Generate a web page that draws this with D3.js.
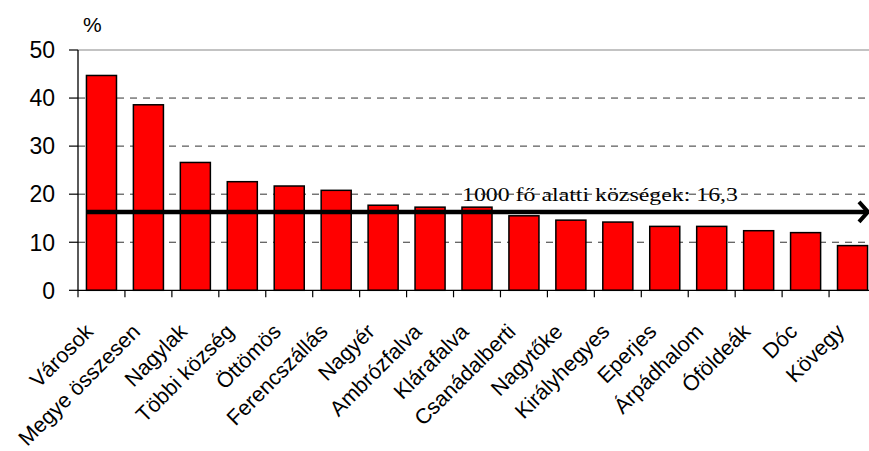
<!DOCTYPE html>
<html>
<head>
<meta charset="utf-8">
<script src="https://cdn.jsdelivr.net/npm/d3@7"></script>
<style>
  body { margin: 0; background: #fff; }
  svg { display: block; }
  text { font-family: "Liberation Sans", Arial, sans-serif; fill: #000; }
</style>
</head>
<body>
<div id="chart"></div>
<script>
// data
const categories = ["Városok", "Megye összesen", "Nagylak", "Többi község", "Öttömös",
    "Ferencszállás", "Nagyér", "Ambrózfalva", "Klárafalva", "Csanádalberti", "Nagytőke",
    "Királyhegyes", "Eperjes", "Árpádhalom", "Óföldeák", "Dóc", "Kövegy"];
const values = [44.7, 38.6, 26.6, 22.6, 21.7, 20.8, 17.7, 17.3, 17.3, 15.5, 14.6,
    14.2, 13.3, 13.3, 12.4, 12.0, 9.3];
const yTicks = [0, 10, 20, 30, 40, 50];
const refValue = 16.3;
const refLabel = "1000 fő alatti községek: 16,3";
const unitLabel = "%";

const width = 869, height = 451;
const plot = {left: 78, right: 876, top: 50, bottom: 290.3};

let svg = d3.select('#chart').append('svg')
    .attr("width", width)
    .attr("height", height);

const x = d3.scaleBand()
    .domain(categories)
    .range([plot.left, plot.right])
    .paddingInner(0.36)
    .paddingOuter(0.18);
const y = d3.scaleLinear()
    .domain([0, 50])
    .range([plot.bottom, plot.top]);
const step = x.step();

// reference label (stretched serif, like the original text box)
svg.append("text")
    .attr("x", 462)
    .attr("y", y(refValue) - 11)
    .attr("textLength", 276)
    .attr("lengthAdjust", "spacingAndGlyphs")
    .style("font-family", "'Liberation Serif', 'Times New Roman', serif")
    .style("font-size", "18px")
    .text(refLabel);

// gridlines (drawn over the label, as in the original)
svg.append("g").selectAll("line")
    .data(yTicks.filter(d => d > 0 && d < 50))
    .join("line")
    .attr("x1", plot.left).attr("x2", plot.right)
    .attr("y1", d => y(d)).attr("y2", d => y(d))
    .attr("stroke", "#333")
    .attr("stroke-width", 1)
    .attr("stroke-dasharray", "7,6");
// top border
svg.append("line")
    .attr("x1", plot.left).attr("x2", plot.right)
    .attr("y1", y(50)).attr("y2", y(50))
    .attr("stroke", "#888")
    .attr("stroke-width", 1.2);

// bars
svg.append("g").selectAll("rect")
    .data(values)
    .join("rect")
    .attr("x", (d, i) => x(categories[i]))
    .attr("y", d => y(d))
    .attr("width", x.bandwidth())
    .attr("height", d => y(0) - y(d))
    .attr("fill", "#ff0000")
    .attr("stroke", "#000")
    .attr("stroke-width", 1.5);

// reference line with arrow
const refY = y(refValue);
const lineEnd = width - 1;
svg.append("line")
    .attr("x1", x(categories[0]))
    .attr("x2", lineEnd)
    .attr("y1", refY).attr("y2", refY)
    .attr("stroke", "#000")
    .attr("stroke-width", 4.5);
svg.append("polyline")
    .attr("points", [[lineEnd - 9, refY - 10], [lineEnd, refY], [lineEnd - 9, refY + 10]].join(" "))
    .attr("fill", "none")
    .attr("stroke", "#000")
    .attr("stroke-width", 4);

// y axis
svg.append("line")
    .attr("x1", plot.left).attr("x2", plot.left)
    .attr("y1", plot.top).attr("y2", plot.bottom)
    .attr("stroke", "#000").attr("stroke-width", 1.3);
let yAxis = svg.append("g");
yAxis.selectAll("line")
    .data(yTicks)
    .join("line")
    .attr("x1", plot.left - 9).attr("x2", plot.left)
    .attr("y1", d => y(d)).attr("y2", d => y(d))
    .attr("stroke", "#000").attr("stroke-width", 1.2);
yAxis.selectAll("text")
    .data(yTicks)
    .join("text")
    .attr("x", 55)
    .attr("y", d => y(d))
    .attr("dy", "0.36em")
    .attr("text-anchor", "end")
    .style("font-size", "23px")
    .text(d => d);
svg.append("text")
    .attr("x", 83)
    .attr("y", 32)
    .style("font-size", "21px")
    .text(unitLabel);

// x axis
svg.append("line")
    .attr("x1", plot.left).attr("x2", plot.right)
    .attr("y1", plot.bottom).attr("y2", plot.bottom)
    .attr("stroke", "#000").attr("stroke-width", 1.3);
svg.append("g").selectAll("line")
    .data(categories)
    .join("line")
    .attr("x1", d => x(d) - x.paddingOuter() * step)
    .attr("x2", d => x(d) - x.paddingOuter() * step)
    .attr("y1", plot.bottom).attr("y2", plot.bottom + 7)
    .attr("stroke", "#000").attr("stroke-width", 1.2);
svg.append("g").selectAll("text")
    .data(categories)
    .join("text")
    .attr("transform", d => `translate(${x(d) + x.bandwidth() / 2 - 7},${333}) rotate(-45)`)
    .attr("text-anchor", "end")
    .style("font-size", "21.5px")
    .text(d => d);
</script>
</body>
</html>
